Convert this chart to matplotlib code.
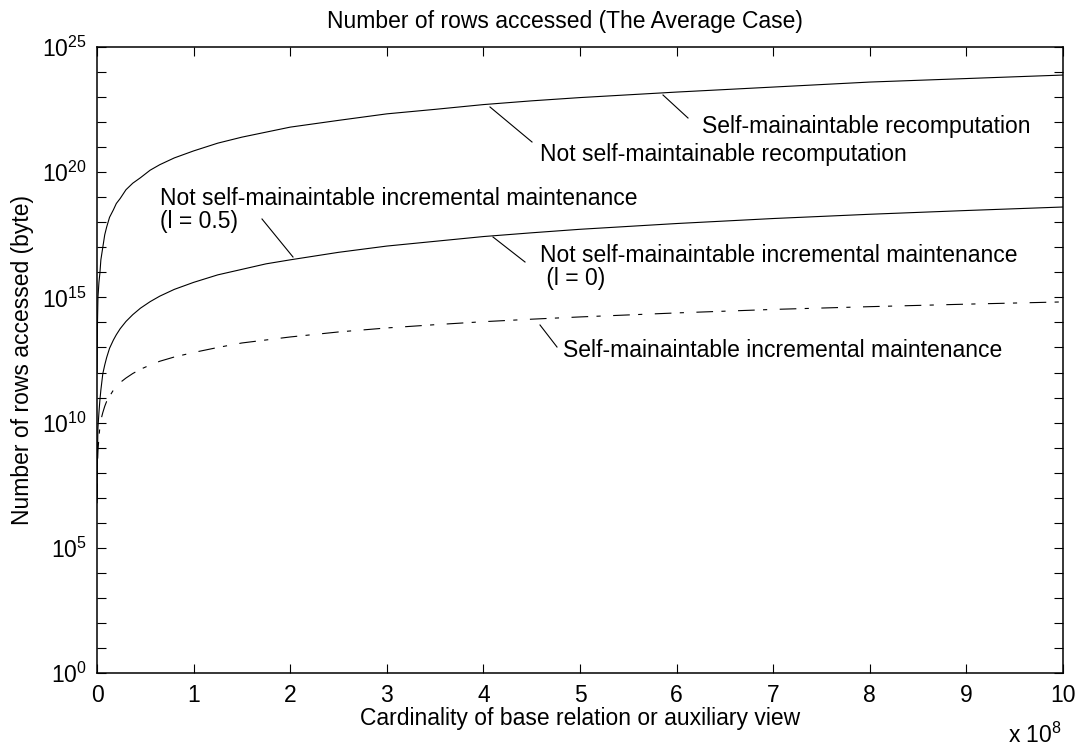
import numpy as np
import matplotlib
matplotlib.use("Agg")
import matplotlib.pyplot as plt
from matplotlib.ticker import FixedLocator, NullFormatter

plt.rcParams['font.family'] = ['Liberation Sans', 'DejaVu Sans']
plt.rcParams['mathtext.fontset'] = 'custom'
plt.rcParams['mathtext.rm'] = 'Liberation Sans'
plt.rcParams['mathtext.it'] = 'Liberation Sans'
plt.rcParams['mathtext.bf'] = 'Liberation Sans'
plt.rcParams['lines.scale_dashes'] = False

# ---- data (x in units of 1e8, y as log10 values) ----
x_card = [0.001, 0.005, 0.01, 0.02, 0.03, 0.04, 0.06, 0.08, 0.1, 0.13,
          0.17, 0.2, 0.24, 0.3, 0.37, 0.45, 0.55, 0.65, 0.8, 1.0,
          1.25, 1.5, 1.75, 2.0, 2.5, 3.0, 3.5, 4.0, 4.5, 5.0,
          6.0, 7.0, 8.0, 9.0, 10.0]
log_recomp = [12.0, 14.0, 15.0, 15.6, 15.97, 16.5, 17.0, 17.5, 17.81, 18.2,
              18.5, 18.75, 18.95, 19.3, 19.56, 19.78, 20.08, 20.3, 20.57, 20.85,
              21.16, 21.4, 21.6, 21.8, 22.07, 22.33, 22.51, 22.7, 22.85, 22.98,
              23.2, 23.4, 23.6, 23.74, 23.88]
log_incr_not_self = [6.8, 8.8, 9.8, 10.4, 10.9, 11.3, 11.95, 12.3, 12.6, 12.97,
                     13.3, 13.51, 13.75, 14.04, 14.31, 14.57, 14.83, 15.05, 15.32, 15.6,
                     15.9, 16.12, 16.34, 16.5, 16.8, 17.05, 17.24, 17.43, 17.58, 17.72,
                     17.95, 18.15, 18.32, 18.47, 18.61]
log_incr_self = [6.9, 8.3, 8.9, 9.4, 9.85, 10.1, 10.4, 10.65, 10.85, 11.05,
                 11.3, 11.42, 11.6, 11.78, 11.96, 12.13, 12.3, 12.45, 12.62, 12.8,
                 13.0, 13.18, 13.3, 13.42, 13.62, 13.78, 13.91, 14.03, 14.13, 14.22,
                 14.38, 14.52, 14.63, 14.73, 14.82]

x_ticks = [0, 1, 2, 3, 4, 5, 6, 7, 8, 9, 10]
y_major_exp = [0, 5, 10, 15, 20, 25]

title = "Number of rows accessed (The Average Case)"
xlabel = "Cardinality of base relation or auxiliary view"
ylabel = "Number of rows accessed (byte)"

W, H = 1076, 751
fig = plt.figure(figsize=(W / 100, H / 100), dpi=100)
L, R, T, B = 97, 1063, 47, 673
ax = fig.add_axes([L / W, 1 - B / H, (R - L) / W, (B - T) / H])

x = np.array(x_card)
ax.plot(x, 10 ** np.array(log_recomp), color='black', lw=0.8)
ax.plot(x, 10 ** np.array(log_incr_not_self), color='black', lw=0.8)
ax.plot(x, 10 ** np.array(log_incr_self), color='black', lw=0.8,
        dashes=(12, 6, 3, 9))

ax.set_yscale('log')
ax.set_xlim(0, 10)
ax.set_ylim(1, 1e25)

FS = 16.5
ax.xaxis.set_major_locator(FixedLocator(x_ticks))
ax.set_xticklabels([str(t) for t in x_ticks])
ax.yaxis.set_major_locator(FixedLocator([10.0 ** e for e in y_major_exp]))
ax.set_yticklabels([r'$\mathregular{10^{%d}}$' % e for e in y_major_exp])
ax.yaxis.set_minor_locator(FixedLocator([10.0 ** e for e in range(0, 26)]))
ax.yaxis.set_minor_formatter(NullFormatter())
ax.tick_params(axis='both', which='both', direction='in', top=True, right=True,
               length=6.5, width=0.8, labelsize=FS, color='black')
ax.tick_params(axis='x', pad=8)
ax.tick_params(axis='y', which='major', pad=7)
for s in ax.spines.values():
    s.set_linewidth(1.1)

# helpers: pixel -> data
def px2x(px):
    return (px - L) / (R - L) * 10.0

def py2y(py):
    return 10 ** (25 - (py - T) / ((B - T) / 25.0))

# leader lines
leaders = [((663, 95), (688, 118)),
           ((490, 107), (532, 142)),
           ((262, 219), (293, 257)),
           ((493, 237), (525, 262)),
           ((540, 325), (557, 347))]
for (a, b) in leaders:
    ax.plot([px2x(a[0]), px2x(b[0])], [py2y(a[1]), py2y(b[1])], color='black', lw=0.8)

labels = [("Self-mainaintable recomputation", 702, 133),
          ("Not self-maintainable recomputation", 540, 161),
          ("Not self-mainaintable incremental maintenance", 160, 205),
          ("(l = 0.5)", 160, 228),
          ("Not self-mainaintable incremental maintenance", 540, 262),
          (" (l = 0)", 540, 285),
          ("Self-mainaintable incremental maintenance", 563, 357)]
for txt, px, py in labels:
    ax.text(px2x(px), py2y(py), txt, fontsize=FS, ha='left', va='baseline')

fig.text(565 / W, 1 - 28 / H, title, fontsize=FS, ha='center', va='baseline')
fig.text(580 / W, 1 - 725 / H, xlabel, fontsize=FS, ha='center', va='baseline')
fig.text(23 / W, 1 - 360 / H, ylabel, fontsize=FS, ha='center', va='center', rotation=90)
fig.text(1008 / W, 1 - 743 / H, r'x $\mathregular{10^{8}}$', fontsize=FS, ha='left', va='baseline')

fig.savefig('out.png', dpi=100)
